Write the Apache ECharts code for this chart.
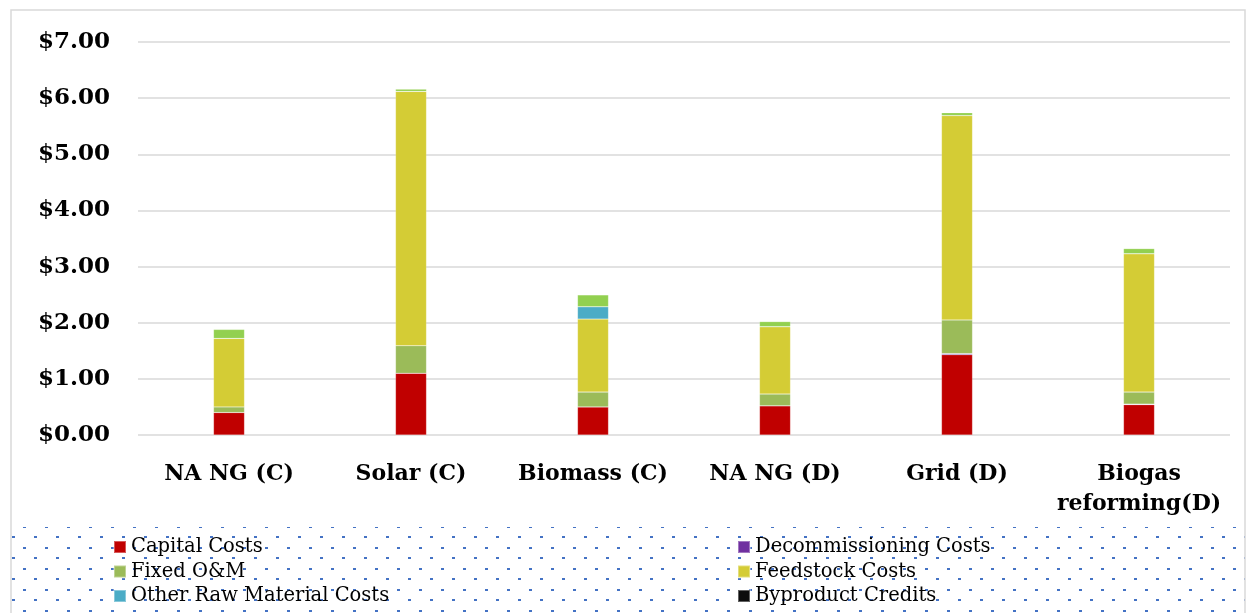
<!DOCTYPE html>
<html>
<head>
<meta charset="utf-8">
<title>Cost breakdown</title>
<script src="https://cdn.jsdelivr.net/npm/echarts@6/dist/echarts.min.js"></script>
<style>
    html, body { margin: 0; padding: 0; background: #fff; }
    #main { width: 1254px; height: 613px; }
</style>
</head>
<body>
<div id="main"></div>
<script>
// 数据
var categories = ['NA NG (C)', 'Solar (C)', 'Biomass (C)', 'NA NG (D)', 'Grid (D)', 'Biogas\nreforming(D)'];
var capital = [0.40, 1.10, 0.50, 0.52, 1.43, 0.54];
var decommissioning = [0, 0, 0, 0, 0.02, 0.01];
var fixedOM = [0.10, 0.49, 0.265, 0.21, 0.60, 0.215];
var feedstock = [1.22, 4.53, 1.30, 1.20, 3.64, 2.465];
var otherRaw = [0, 0, 0.22, 0, 0, 0];
var byproduct = [0, 0, 0, 0, 0, 0];
var otherVariable = [0.16, 0.04, 0.21, 0.09, 0.05, 0.09];
var yTicks = [0, 1, 2, 3, 4, 5, 6, 7];

(function() {
    //1.实例化对象
    var myChart = echarts.init(document.querySelector('#main'));

    // 图例区域的点状底纹
    var dot = document.createElement('canvas');
    dot.width = 22;
    dot.height = 21;
    var ctx = dot.getContext('2d');
    ctx.fillStyle = '#4472c4';
    ctx.fillRect(1, 1, 3, 2);
    ctx.fillRect(12, 11, 3, 2);

    var makeSeries = function(name, data, color) {
        return {
            name: name,
            type: 'bar',
            stack: 'total',
            barWidth: 31,
            itemStyle: {
                color: color,
                borderColor: 'rgba(255,255,255,0.35)',
                borderWidth: 0.5
            },
            emphasis: { disabled: true },
            data: data
        };
    };

    var legendText = {
        fontFamily: 'DejaVu Serif',
        fontSize: 19.5,
        lineHeight: 22,
        color: '#000'
    };

    //2.指定配置项和数据
    var option = {
        animation: false,
        graphic: [{
            type: 'rect',
            z: -10,
            shape: { x: 11, y: 527, width: 1234, height: 90 },
            style: { fill: { image: dot, repeat: 'repeat' } },
            silent: true
        }, {
            type: 'rect',
            z: -9,
            shape: { x: 11, y: 10, width: 1234, height: 610 },
            style: { fill: 'none', stroke: '#d9d9d9', lineWidth: 1.5 },
            silent: true
        }],
        legend: [{
            orient: 'vertical',
            left: 113,
            top: 536,
            height: 120,
            padding: 0,
            itemWidth: 12,
            itemHeight: 12,
            itemGap: 2.5,
            icon: 'rect',
            textStyle: legendText,
            data: ['Capital Costs', 'Fixed O&M', 'Other Raw Material Costs']
        }, {
            orient: 'vertical',
            left: 737,
            top: 536,
            height: 120,
            padding: 0,
            itemWidth: 12,
            itemHeight: 12,
            itemGap: 2.5,
            icon: 'rect',
            textStyle: legendText,
            data: ['Decommissioning Costs', 'Feedstock Costs', 'Byproduct Credits']
        }],
        grid: {
            left: 138,
            right: 24,
            top: 42,
            bottom: 178
        },
        xAxis: {
            type: 'category',
            data: categories,
            axisTick: { show: false },
            axisLine: { show: false },
            axisLabel: {
                margin: 24,
                interval: 0,
                fontFamily: 'DejaVu Serif',
                fontWeight: 'bold',
                fontSize: 22,
                lineHeight: 30,
                color: '#000'
            }
        },
        yAxis: {
            type: 'value',
            min: yTicks[0],
            max: yTicks[yTicks.length - 1],
            interval: 1,
            axisLine: { show: false },
            axisTick: { show: false },
            axisLabel: {
                margin: 28,
                fontFamily: 'DejaVu Serif',
                fontWeight: 'bold',
                fontSize: 23,
                color: '#000',
                formatter: function(v) {
                    return '$' + v.toFixed(2);
                }
            },
            // 分隔线
            splitLine: {
                lineStyle: { color: '#d9d9d9', width: 1.5 }
            }
        },
        series: [
            makeSeries('Capital Costs', capital, '#c00000'),
            makeSeries('Decommissioning Costs', decommissioning, '#7030a0'),
            makeSeries('Fixed O&M', fixedOM, '#9bbb59'),
            makeSeries('Feedstock Costs', feedstock, '#d4cc35'),
            makeSeries('Other Raw Material Costs', otherRaw, '#4bacc6'),
            makeSeries('Byproduct Credits', byproduct, '#0d0d0d'),
            makeSeries('Other Variable Costs', otherVariable, '#92d050')
        ]
    };
    //3.把配置项给实例对象
    myChart.setOption(option);
    window.addEventListener('resize', function() {
        myChart.resize();
    });
})();
</script>
</body>
</html>
